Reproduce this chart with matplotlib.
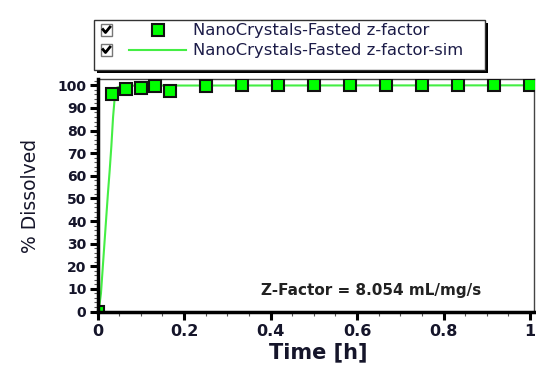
import matplotlib
matplotlib.use("Agg")
import matplotlib.pyplot as plt
from matplotlib.patches import Rectangle
from matplotlib.lines import Line2D
from matplotlib.ticker import MultipleLocator

# ---- data ----
time_obs = [0, 0.0333, 0.0667, 0.1, 0.1333, 0.1667, 0.25, 0.3333, 0.4167,
            0.5, 0.5833, 0.6667, 0.75, 0.8333, 0.9167, 1.0]
diss_obs = [0, 96.3, 98.2, 98.8, 99.5, 97.3, 99.5, 100, 100,
            100, 100, 100, 100, 100, 100, 100]
time_sim = [0, 0.004, 0.008, 0.012, 0.016, 0.02, 0.024, 0.028, 0.032,
            0.036, 0.04, 0.045, 0.06, 0.1, 1.0]
diss_sim = [0, 2, 8, 19, 30, 41, 52, 62, 73, 86, 95, 99, 99.8, 99.9, 100]
x_ticks = [0, 0.2, 0.4, 0.6, 0.8, 1]
x_ticklabels = ["0", "0.2", "0.4", "0.6", "0.8", "1"]
y_ticks = list(range(0, 101, 10))
label_obs = "NanoCrystals-Fasted z-factor"
label_sim = "NanoCrystals-Fasted z-factor-sim"
annot = "Z-Factor = 8.054 mL/mg/s"

W, H = 536, 376
fig = plt.figure(figsize=(W / 100, H / 100), dpi=100)
plt.rcParams['font.family'] = ['DejaVu Sans']

def fx(px):
    return px / W

def fy(py):
    return 1 - py / H

ax = fig.add_axes([fx(97.5), fy(311.5), fx(534) - fx(97.5), fy(79) - fy(311.5)])

ax.plot(time_sim, diss_sim, color='#44ee44', lw=1.5, zorder=2)
ax.plot(time_obs, diss_obs, linestyle='none', marker='s', markersize=8.3,
        markerfacecolor='#00ff00', markeredgecolor='#111111',
        markeredgewidth=1.5, zorder=3, clip_on=True)

ax.set_xlim(0, 1.009)
ax.set_ylim(0, 102.8)
ax.set_xticks(x_ticks)
ax.set_xticklabels(x_ticklabels)
ax.set_yticks(y_ticks)
ax.xaxis.set_minor_locator(MultipleLocator(0.05))
ax.yaxis.set_minor_locator(MultipleLocator(2))

txt_col = '#15152a'
for lab in ax.get_xticklabels():
    lab.set_fontsize(11.5)
    lab.set_fontweight('bold')
    lab.set_color(txt_col)
for lab in ax.get_yticklabels():
    lab.set_fontsize(10)
    lab.set_fontweight('bold')
    lab.set_color(txt_col)

ax.tick_params(axis='both', which='major', direction='out', length=6,
               width=2.2, color='black')
ax.tick_params(axis='x', which='major', pad=3)
ax.tick_params(axis='y', which='major', pad=2)
ax.tick_params(axis='both', which='minor', direction='out', length=3,
               width=0.8, color='#555555')

for s in ['left', 'bottom']:
    ax.spines[s].set_linewidth(2.5)
    ax.spines[s].set_color('black')
    ax.spines[s].set_zorder(5)
for s in ['top', 'right']:
    ax.spines[s].set_linewidth(1.0)
    ax.spines[s].set_color('#444444')

fig.text(fx(318), fy(358), "Time [h]", ha='center', va='baseline',
         fontsize=15, fontweight='bold', color=txt_col)
fig.text(fx(31), fy(196), "% Dissolved", ha='center', va='center',
         rotation=90, fontsize=13.5, color=txt_col)
fig.text(fx(371), fy(290), annot, ha='center', va='center',
         fontsize=11, fontweight='bold', color='#222222')

# ---- legend (manual) ----
T = fig.transFigure
x0, x1, y0, y1 = 94, 485, 20, 70
fig.patches.append(Rectangle((fx(x0 + 3), fy(y1 + 3)), fx(x1) - fx(x0),
                             fy(y0) - fy(y1), transform=T,
                             facecolor='black', edgecolor='none', zorder=1))
fig.patches.append(Rectangle((fx(x0), fy(y1)), fx(x1) - fx(x0),
                             fy(y0) - fy(y1), transform=T,
                             facecolor='white', edgecolor='#333333',
                             lw=1.0, zorder=2))
for row_y in [30, 50]:
    fig.patches.append(Rectangle((fx(101), fy(row_y + 5.5)), fx(112) - fx(101),
                                 fy(row_y - 5.5) - fy(row_y + 5.5), transform=T,
                                 facecolor='white', edgecolor='#777777',
                                 lw=1.0, zorder=3))
    fig.lines.append(Line2D([fx(103), fx(105.5), fx(110)],
                            [fy(row_y - 0.5), fy(row_y + 2.5), fy(row_y - 3)],
                            transform=T, color='black', lw=2, zorder=4))

fig.lines.append(Line2D([fx(157.5)], [fy(30)], transform=T, linestyle='none',
                        marker='s', markersize=8, markerfacecolor='#00ff00',
                        markeredgecolor='#111111', markeredgewidth=1.5, zorder=4))
fig.lines.append(Line2D([fx(129), fx(186)], [fy(50), fy(50)], transform=T,
                        color='#44ee44', lw=1.5, zorder=4))
leg_col = '#1c1c48'
fig.text(fx(193), fy(30), label_obs, ha='left', va='center', fontsize=11.8,
         color=leg_col, zorder=5)
fig.text(fx(193), fy(50), label_sim, ha='left', va='center', fontsize=11.8,
         color=leg_col, zorder=5)

fig.savefig("out.png", dpi=100)
